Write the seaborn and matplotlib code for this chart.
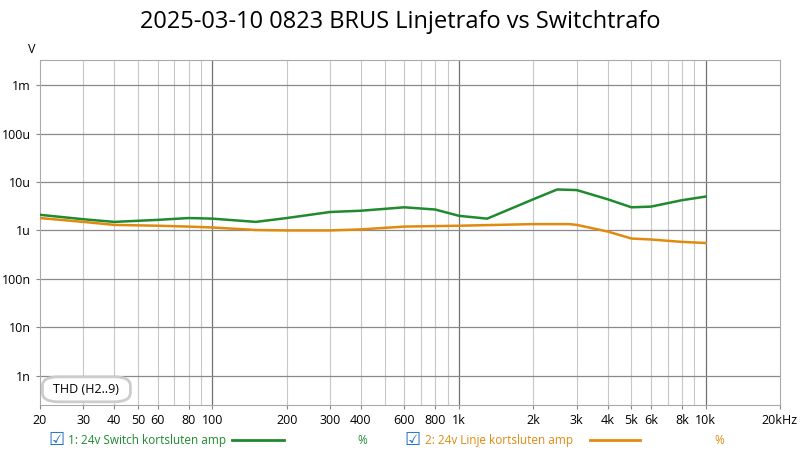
import numpy as np
import pandas as pd
import matplotlib.pyplot as plt
import seaborn as sns
from matplotlib.patches import FancyBboxPatch

# Data (frequency in Hz, THD in volts)
freq_switch = [20, 30, 40, 60, 80, 100, 150, 200, 300, 400, 600, 800, 1000, 1300, 2000, 2500, 3000, 4000, 5000, 6000, 8000, 10000]
thd_switch = [2.1e-6, 1.7e-6, 1.5e-6, 1.65e-6, 1.8e-6, 1.75e-6, 1.5e-6, 1.8e-6, 2.4e-6, 2.55e-6, 3.0e-6, 2.7e-6, 2.0e-6, 1.75e-6, 4.4e-6, 7.0e-6, 6.8e-6, 4.4e-6, 3.0e-6, 3.1e-6, 4.2e-6, 5.0e-6]
freq_linje = [20, 30, 40, 60, 80, 100, 150, 200, 300, 400, 600, 1000, 2000, 2800, 3000, 4000, 5000, 6000, 8000, 10000]
thd_linje = [1.8e-6, 1.5e-6, 1.3e-6, 1.25e-6, 1.2e-6, 1.15e-6, 1.02e-6, 1.0e-6, 1.0e-6, 1.05e-6, 1.2e-6, 1.25e-6, 1.35e-6, 1.35e-6, 1.3e-6, 0.95e-6, 0.68e-6, 0.65e-6, 0.58e-6, 0.55e-6]

x_ticks = [20, 30, 40, 50, 60, 80, 100, 200, 300, 400, 600, 800, 1000, 2000, 3000, 4000, 5000, 6000, 8000, 10000, 20000]
x_labels = ["20", "30", "40", "50", "60", "80", "100", "200", "300", "400", "600", "800", "1k",
            "2k", "3k", "4k", "5k", "6k", "8k", "10k", "20kHz"]
y_ticks = [1e-9, 1e-8, 1e-7, 1e-6, 1e-5, 1e-4, 1e-3]
y_labels = ["1n", "10n", "100n", "1u", "10u", "100u", "1m"]

GREEN = "#1f8a2e"
ORANGE = "#e08a10"

plt.rcParams["font.family"] = "Open Sans"
fig = plt.figure(figsize=(8, 4.54), dpi=100)
ax = fig.add_axes([0.05, 0.108, 0.925, 0.76])

df_s = pd.DataFrame({"f": freq_switch, "v": thd_switch})
df_l = pd.DataFrame({"f": freq_linje, "v": thd_linje})
sns.lineplot(data=df_s, x="f", y="v", ax=ax, color=GREEN, lw=1.8, zorder=3)
sns.lineplot(data=df_l, x="f", y="v", ax=ax, color=ORANGE, lw=1.8, zorder=3)

ax.set_xscale("log")
ax.set_yscale("log")
ax.set_xlim(20, 20000)
ax.set_ylim(2.5e-10, 3.3e-3)

# grid: light minor verticals, darker decades
for f in [30, 40, 50, 60, 70, 80, 90, 200, 300, 400, 500, 600, 700, 800, 900,
          2000, 3000, 4000, 5000, 6000, 7000, 8000, 9000]:
    ax.axvline(f, color="#c8c8c8", lw=0.8, zorder=1)
for f in [100, 1000, 10000]:
    ax.axvline(f, color="#707070", lw=0.9, zorder=1)
for y in y_ticks:
    ax.axhline(y, color="#8a8a8a", lw=0.9, zorder=1)

ax.set_xticks(x_ticks)
ax.set_xticklabels(x_labels)
ax.set_yticks(y_ticks)
ax.set_yticklabels(y_labels)
ax.minorticks_off()
ax.tick_params(labelsize=9, length=3, color="#888888")
ax.set_xlabel("")
ax.set_ylabel("")
for s in ax.spines.values():
    s.set_color("#aaaaaa")

fig.text(0.5, 0.952, "2025-03-10 0823 BRUS Linjetrafo vs Switchtrafo", ha="center", va="center", fontsize=17)
fig.text(0.04, 0.892, "V", ha="center", va="center", fontsize=9)

box = FancyBboxPatch((0.058, 0.12), 0.1, 0.045, boxstyle="round,pad=0.005,rounding_size=0.02",
                     transform=fig.transFigure, fc="white", ec="#cccccc", lw=2, zorder=5)
fig.patches.append(box)
fig.text(0.108, 0.143, "THD (H2..9)", ha="center", va="center", fontsize=9, zorder=6)

# legend row
ly = 0.03
fig.text(0.07, ly, "\u2611", color="#1a73c8", fontsize=13, ha="center", va="center", family="DejaVu Sans")
fig.text(0.085, ly, "1: 24v Switch kortsluten amp", color=GREEN, fontsize=8.5, va="center")
fig.lines.append(plt.Line2D([0.29, 0.355], [ly, ly], color=GREEN, lw=2, transform=fig.transFigure))
fig.text(0.447, ly, "%", color=GREEN, fontsize=8.5, va="center")
fig.text(0.515, ly, "\u2611", color="#1a73c8", fontsize=13, ha="center", va="center", family="DejaVu Sans")
fig.text(0.531, ly, "2: 24v Linje kortsluten amp", color=ORANGE, fontsize=8.5, va="center")
fig.lines.append(plt.Line2D([0.738, 0.8], [ly, ly], color=ORANGE, lw=2, transform=fig.transFigure))
fig.text(0.893, ly, "%", color=ORANGE, fontsize=8.5, va="center")

fig.savefig("out.png", dpi=100)
